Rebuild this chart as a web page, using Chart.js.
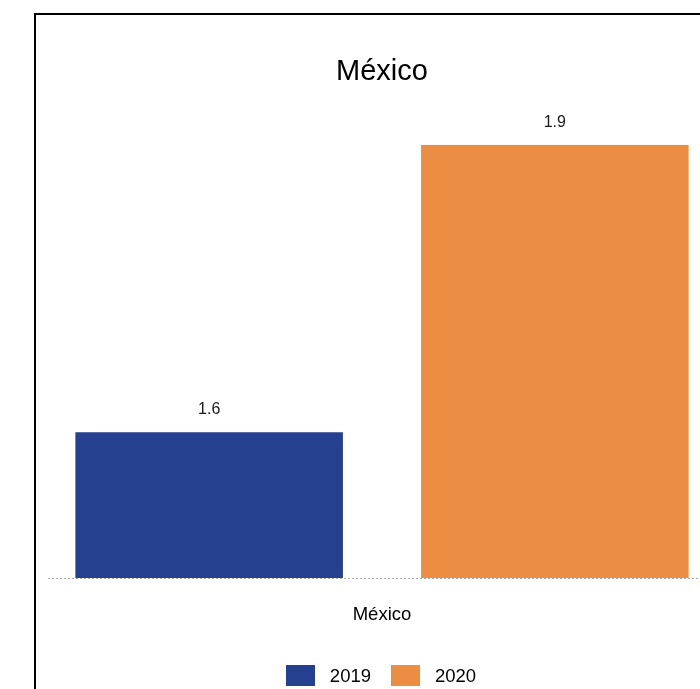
<!DOCTYPE html>
<html><head><meta charset="utf-8">
<script src="https://cdn.jsdelivr.net/npm/chart.js@4.4.0/dist/chart.umd.min.js"></script>
<style>
html,body{margin:0;padding:0;background:#fff;overflow:hidden;width:700px;height:689px}
#frame{position:absolute;left:34px;top:13px;width:692px;height:720px;border:2px solid #000;background:#fff}
canvas{display:block}
#legend{position:absolute;left:0;top:665px;width:762px;height:21px;display:flex;justify-content:center;align-items:center;
  font-family:"Liberation Sans", Arial, Helvetica, sans-serif;font-size:18.5px;color:#000}
#legend .item{display:flex;align-items:center;margin:0 10px}
#legend .box{width:29px;height:21px;margin-right:15px}
</style></head><body>
<div id="frame"><canvas id="c" width="692" height="700"></canvas></div>
<div id="legend"></div>
<script>
const chartTitle = "México";
const categories = ["México"];
const seriesLabels = ["2019", "2020"];
const values2019 = [1.6];
const values2020 = [1.9];
const seriesColors = ["#25408F", "#EB8E44"];
const FONT = '"Liberation Sans", Arial, Helvetica, sans-serif';

const valueLabels = {
  id: 'valueLabels',
  afterDatasetsDraw(chart) {
    const ctx = chart.ctx;
    ctx.save();
    ctx.font = '16px ' + FONT;
    ctx.fillStyle = '#1a1a1a';
    ctx.textAlign = 'center';
    ctx.textBaseline = 'middle';
    chart.data.datasets.forEach((ds, i) => {
      chart.getDatasetMeta(i).data.forEach((bar, j) => {
        ctx.fillText(ds.data[j].toFixed(1), bar.x, bar.y - 22.5);
      });
    });
    ctx.restore();
  }
};

const chart = new Chart(document.getElementById('c'), {
  type: 'bar',
  data: {
    labels: categories,
    datasets: [
      { label: seriesLabels[0], data: values2019, backgroundColor: seriesColors[0], borderWidth: 0 },
      { label: seriesLabels[1], data: values2020, backgroundColor: seriesColors[1], borderWidth: 0 }
    ]
  },
  options: {
    responsive: false,
    animation: false,
    devicePixelRatio: 1,
    categoryPercentage: 1.035,
    barPercentage: 0.774,
    layout: { padding: { left: 12, right: 12, top: 0, bottom: 62.8 } },
    plugins: {
      title: {
        display: true, text: chartTitle, color: '#000',
        font: { size: 29, family: FONT, weight: 'normal' },
        padding: { top: 40, bottom: 55 }
      },
      legend: { display: false },
      tooltip: { enabled: false }
    },
    scales: {
      x: {
        grid: { display: false, drawTicks: false },
        border: { display: false },
        ticks: { padding: 26, color: '#000', font: { size: 18.5, family: FONT } }
      },
      y: {
        display: true,
        min: 1.448, max: 1.9,
        ticks: { display: false },
        border: { display: false, dash: [2, 2] },
        grid: {
          drawTicks: false,
          lineWidth: 1,
          color: (ctx) => (ctx.index === 0 ? '#a8a8a8' : 'rgba(0,0,0,0)')
        }
      }
    }
  },
  plugins: [valueLabels]
});

// HTML legend built from the series arrays
const legendEl = document.getElementById('legend');
seriesLabels.forEach((lab, i) => {
  const item = document.createElement('div');
  item.className = 'item';
  const box = document.createElement('span');
  box.className = 'box';
  box.style.background = seriesColors[i];
  const txt = document.createElement('span');
  txt.textContent = lab;
  item.appendChild(box);
  item.appendChild(txt);
  legendEl.appendChild(item);
});
</script>
</body></html>
